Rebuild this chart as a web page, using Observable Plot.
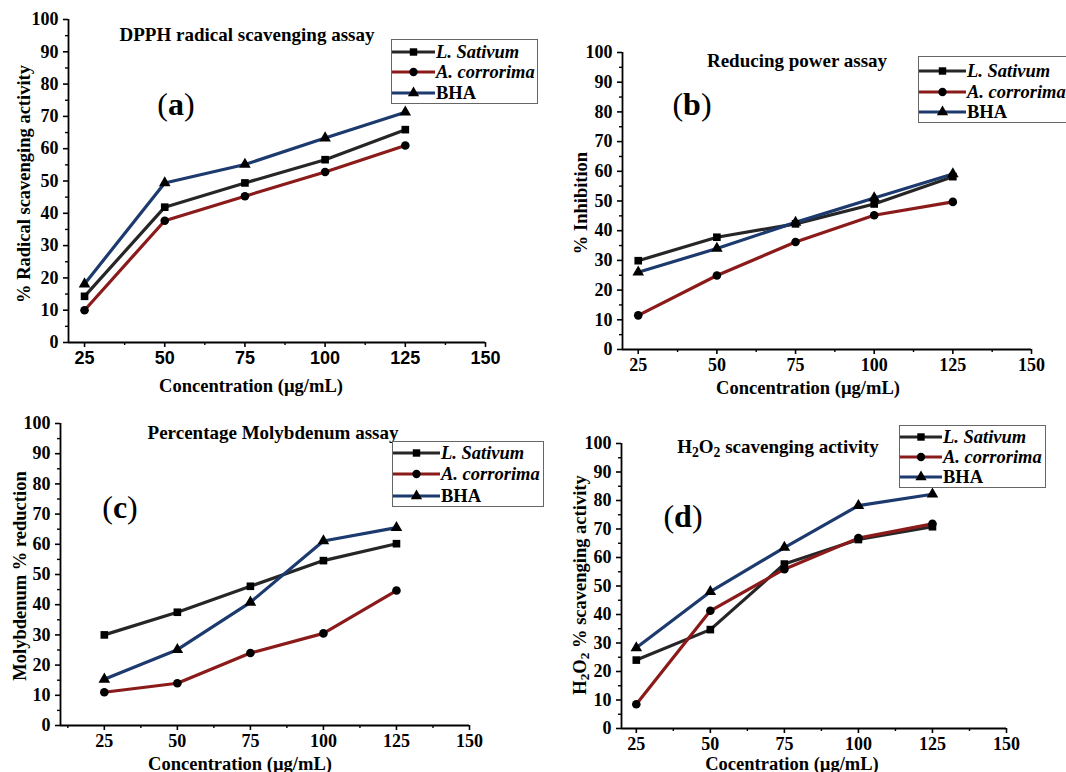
<!DOCTYPE html>
<html><head><meta charset="utf-8">
<script src="https://cdn.jsdelivr.net/npm/d3@7"></script>
<script src="https://cdn.jsdelivr.net/npm/@observablehq/plot@0.6"></script>
<style>
body{margin:0;background:#fff;}
#root{position:relative;width:1066px;height:772px;overflow:hidden;font-family:"Liberation Serif","Times New Roman",serif;font-weight:bold;color:#000;background:#fff;}
.abs{position:absolute;}
.c{transform:translate(-50%,-50%);white-space:nowrap;}
.rot{transform:translate(-50%,-50%) rotate(-90deg);white-space:nowrap;}
.title{font-size:19px;}
.axl{font-size:18.5px;}
.plab{font-size:32px;}
.plab .p{font-weight:normal;}
.legend{border:1px solid #666;background:#fff;box-sizing:border-box;}
.legend .row{position:absolute;left:0;display:flex;align-items:center;height:20px;transform:translateY(-50%);}
.legend .txt{font-size:18.5px;white-space:nowrap;margin-left:1px;}
.it{font-style:italic;}
sub{font-size:0.72em;vertical-align:-0.3em;line-height:0;}
</style></head>
<body><div id="root"></div>
<script>
// ---- data ----
const concentrations = [25, 50, 75, 100, 125];
const seriesNames = ["L. Sativum", "A. corrorima", "BHA"];
const seriesColors = ["#262626", "#8b1a1a", "#1c3a6e"];
const seriesSymbols = ["square", "circle", "triangle"];
const xMajorTicks = [25, 50, 75, 100, 125, 150];

const dpphLSativum   = [14.3, 41.9, 49.4, 56.6, 65.9];
const dpphACorrorima = [10.0, 37.7, 45.3, 52.8, 61.0];
const dpphBHA        = [18.1, 49.4, 55.1, 63.3, 71.3];

const reducingLSativum   = [29.9, 37.8, 42.3, 49.0, 58.2];
const reducingACorrorima = [11.5, 24.9, 36.2, 45.2, 49.7];
const reducingBHA        = [26.0, 34.0, 42.8, 51.0, 59.1];

const molybLSativum   = [30.0, 37.5, 46.1, 54.6, 60.2];
const molybACorrorima = [11.0, 14.0, 24.0, 30.5, 44.7];
const molybBHA        = [15.3, 25.1, 40.8, 61.1, 65.5];

const h2o2LSativum   = [24.0, 34.7, 57.7, 66.3, 70.8];
const h2o2ACorrorima = [8.5, 41.3, 55.9, 66.8, 71.8];
const h2o2BHA        = [28.3, 48.0, 63.5, 78.2, 82.2];

// ---- layout ----
const panels = [
  {label:"a", left:0, top:0, width:540, height:395, mL:68, mR:55, mT:19, mB:53, x0:20,
   values:[dpphLSativum, dpphACorrorima, dpphBHA], xTickFont:"Liberation Sans",
   title:"DPPH radical scavenging assay", titlePos:[247,35], labelPos:[176,104],
   yLabel:"% Radical scavenging activity", yLabelPos:[24,184],
   xLabel:"Concentration (µg/mL)", xLabelPos:[251,386],
   legend:{left:391, top:39, width:147, height:65, rows:[13,33,54], sample:43}},
  {label:"b", left:540, top:0, width:526, height:400, mL:82, mR:35, mT:52, mB:51, x0:20,
   values:[reducingLSativum, reducingACorrorima, reducingBHA], xTickFont:"Liberation Serif",
   title:"Reducing power assay", titlePos:[797,61], labelPos:[692,104],
   yLabel:"% Inhibition", yLabelPos:[581,203],
   xLabel:"Concentration (µg/mL)", xLabelPos:[808,388],
   legend:{left:918, top:56, width:150, height:67, rows:[15,36,56], sample:47}},
  {label:"c", left:0, top:400, width:540, height:372, mL:60, mR:71, mT:23, mB:47, x0:10,
   values:[molybLSativum, molybACorrorima, molybBHA], xTickFont:"Liberation Serif",
   title:"Percentage Molybdenum assay", titlePos:[273,433], labelPos:[120,507],
   yLabel:"Molybdenum % reduction", yLabelPos:[20,576],
   xLabel:"Concentration (µg/mL)", xLabelPos:[240,764],
   legend:{left:392, top:441, width:152, height:66, rows:[12,33,55], sample:47}},
  {label:"d", left:540, top:400, width:526, height:372, mL:81, mR:60, mT:43, mB:44, x0:20,
   values:[h2o2LSativum, h2o2ACorrorima, h2o2BHA], xTickFont:"Liberation Serif",
   title:"H<sub>2</sub>O<sub>2</sub> scavenging activity", titlePos:[778,447], labelPos:[683,516],
   yLabel:"H<sub>2</sub>O<sub>2</sub> % scavenging activity", yLabelPos:[580,585],
   xLabel:"Cocentration (µg/mL)", xLabelPos:[792,764],
   legend:{left:899, top:425, width:147, height:63, rows:[12,32,52], sample:42}}
];

const root = document.getElementById("root");

function addDiv(cls, html, x, y) {
  const d = document.createElement("div");
  d.className = "abs " + cls;
  d.innerHTML = html;
  d.style.left = x + "px";
  d.style.top = y + "px";
  root.appendChild(d);
  return d;
}

function makePlot(p) {
  const rows = [];
  seriesNames.forEach((s, i) => concentrations.forEach((c, j) =>
    rows.push({series: s, conc: c, value: p.values[i][j]})));
  const minorX = d3.range(12.5, 150, 25).filter(v => v > p.x0);
  const majorY = d3.range(0, 101, 10);
  const minorY = d3.range(5, 100, 10);
  return Plot.plot({
    width: p.width, height: p.height,
    marginLeft: p.mL, marginRight: p.mR, marginTop: p.mT, marginBottom: p.mB,
    style: {fontFamily: "Liberation Serif", fontSize: "18px", fontWeight: "bold", color: "#000", background: "transparent", overflow: "visible"},
    x: {domain: [p.x0, 150]},
    y: {domain: [0, 100]},
    color: {domain: seriesNames, range: seriesColors},
    symbol: {domain: seriesNames, range: seriesSymbols},
    marks: [
      Plot.axisX({ticks: xMajorTicks, tickSize: 5, tickPadding: 4, strokeWidth: 1.6, label: null, fontFamily: p.xTickFont, fontSize: 18}),
      Plot.axisX({ticks: minorX, tickSize: 3, text: null, strokeWidth: 1.4, label: null}),
      Plot.axisY({ticks: majorY, tickSize: 5, tickPadding: 5, strokeWidth: 1.6, label: null, fontSize: 18}),
      Plot.axisY({ticks: minorY, tickSize: 3, text: null, strokeWidth: 1.4, label: null}),
      Plot.ruleY([0], {strokeWidth: 1.8}),
      Plot.ruleX([p.x0], {strokeWidth: 1.8}),
      Plot.line(rows, {x: "conc", y: "value", z: "series", stroke: "series", strokeWidth: 3.2}),
      Plot.dot(rows, {x: "conc", y: "value", symbol: "series", fill: "#000", r: 4.3})
    ]
  });
}

function legendSample(i, w) {
  const ns = "http://www.w3.org/2000/svg";
  const svg = document.createElementNS(ns, "svg");
  svg.setAttribute("width", w); svg.setAttribute("height", 14);
  const ln = document.createElementNS(ns, "line");
  ln.setAttribute("x1", 0); ln.setAttribute("x2", w); ln.setAttribute("y1", 7); ln.setAttribute("y2", 7);
  ln.setAttribute("stroke", seriesColors[i]); ln.setAttribute("stroke-width", 3.2);
  svg.appendChild(ln);
  const sym = d3.symbol(i === 0 ? d3.symbolSquare : i === 1 ? d3.symbolCircle : d3.symbolTriangle, 55)();
  const pth = document.createElementNS(ns, "path");
  pth.setAttribute("d", sym);
  pth.setAttribute("transform", `translate(${w/2},7)`);
  pth.setAttribute("fill", "#000");
  svg.appendChild(pth);
  return svg;
}

for (const p of panels) {
  const holder = document.createElement("div");
  holder.className = "abs";
  holder.style.left = p.left + "px";
  holder.style.top = p.top + "px";
  holder.appendChild(makePlot(p));
  root.appendChild(holder);

  addDiv("c title", p.title, p.titlePos[0], p.titlePos[1]);
  addDiv("c plab", `<span class="p">(</span>${p.label}<span class="p">)</span>`, p.labelPos[0], p.labelPos[1]);
  addDiv("rot axl", p.yLabel, p.yLabelPos[0], p.yLabelPos[1]);
  addDiv("c axl", p.xLabel, p.xLabelPos[0], p.xLabelPos[1]);

  const L = p.legend;
  const box = addDiv("legend", "", L.left, L.top);
  box.style.width = L.width + "px";
  box.style.height = L.height + "px";
  seriesNames.forEach((s, i) => {
    const row = document.createElement("div");
    row.className = "row";
    row.style.top = (L.rows[i] - 1) + "px";
    row.appendChild(legendSample(i, L.sample));
    const t = document.createElement("span");
    t.className = "txt" + (i < 2 ? " it" : "");
    t.textContent = s;
    row.appendChild(t);
    box.appendChild(row);
  });
}
</script></body></html>
